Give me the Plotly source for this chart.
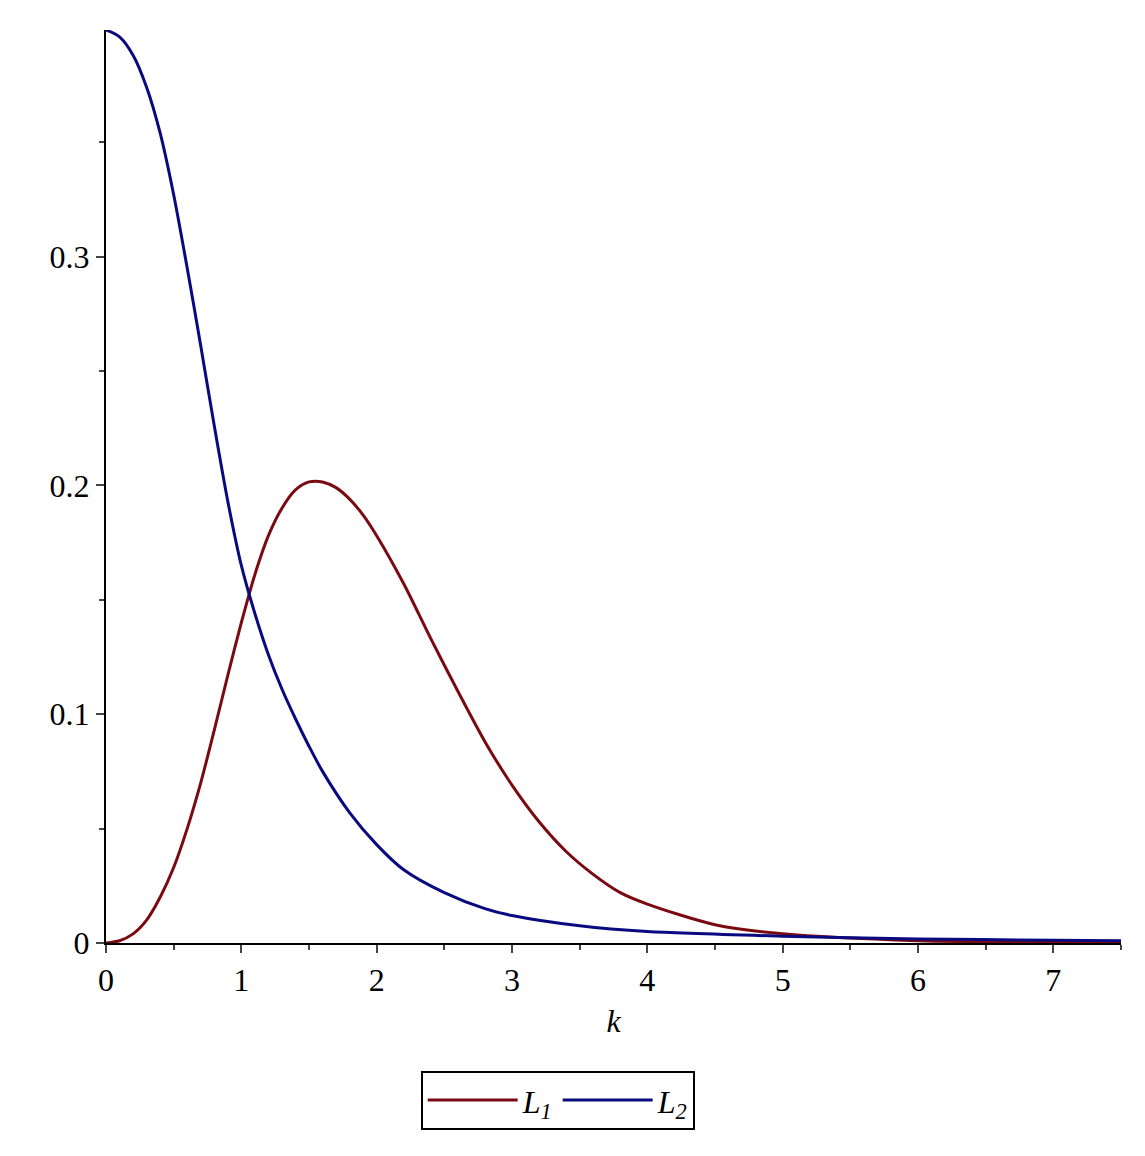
import plotly.graph_objects as go

k2 = [0,0.1,0.2,0.3,0.4,0.5,0.6,0.7,0.8,0.9,1.0,1.1,1.2,1.3,1.4,1.5,1.6,1.8,2.0,2.2,2.5,2.8,3.0,3.5,4,5,6,7,7.5]
L2 = [0.399,0.396,0.388,0.374,0.354,0.327,0.295,0.261,0.226,0.193,0.165,0.144,0.126,0.111,0.098,0.086,0.075,0.057,0.043,0.032,0.022,0.015,0.012,0.0075,0.005,0.003,0.0018,0.0012,0.001]
k1 = [0,0.1,0.2,0.3,0.4,0.5,0.6,0.7,0.8,0.9,1.0,1.1,1.2,1.3,1.4,1.5,1.6,1.7,1.8,1.9,2.0,2.2,2.4,2.6,2.8,3.0,3.2,3.4,3.6,3.8,4.0,4.5,5,6,7,7.5]
L1 = [0,0.001,0.004,0.01,0.02,0.033,0.05,0.07,0.093,0.117,0.140,0.161,0.178,0.190,0.198,0.2015,0.2015,0.199,0.194,0.187,0.178,0.157,0.133,0.110,0.088,0.069,0.053,0.040,0.030,0.022,0.017,0.008,0.004,0.001,0.0003,0.0002]

fig = go.Figure()
fig.add_trace(go.Scatter(x=k1, y=L1, mode="lines", line=dict(color="#7a0a12", width=3, shape="spline", smoothing=0.8),
                         name="<i>L</i><sub><i>1</i></sub>"))
fig.add_trace(go.Scatter(x=k2, y=L2, mode="lines", line=dict(color="#0a0a80", width=3, shape="spline", smoothing=0.8),
                         name="<i>L</i><sub><i>2</i></sub>"))
FAM = "Liberation Serif, Times New Roman, serif"
font = dict(family=FAM, size=32, color="black")
fig.update_layout(
    width=1145, height=1156, plot_bgcolor="white", paper_bgcolor="white",
    margin=dict(l=98, r=32, t=22, b=221), font=font,
    xaxis=dict(range=[0, 7.5], tickvals=[0,1,2,3,4,5,6,7], showgrid=False, zeroline=False, tickfont=font,
               showline=True, linecolor="black", linewidth=2, ticks="outside", ticklen=8, tickwidth=2,
               minor=dict(tickvals=[0.5,1.5,2.5,3.5,4.5,5.5,6.5,7.5], ticks="outside", ticklen=5, tickwidth=1.5),
               title=dict(text="<i>k</i>", standoff=12, font=font)),
    yaxis=dict(range=[0, 0.399], tickvals=[0,0.1,0.2,0.3], ticktext=["0","0.1","0.2","0.3"], showgrid=False,
               tickfont=font, zeroline=False, showline=True, linecolor="black", linewidth=2, ticks="outside",
               ticklen=8, tickwidth=2,
               minor=dict(tickvals=[0.05,0.15,0.25,0.35], ticks="outside", ticklen=5, tickwidth=1.5)),
    legend=dict(orientation="h", x=0.445, xanchor="center", y=-0.14, yanchor="top", itemwidth=90,
                bordercolor="black", borderwidth=2, font=font),
)
fig.write_html("out.html")
